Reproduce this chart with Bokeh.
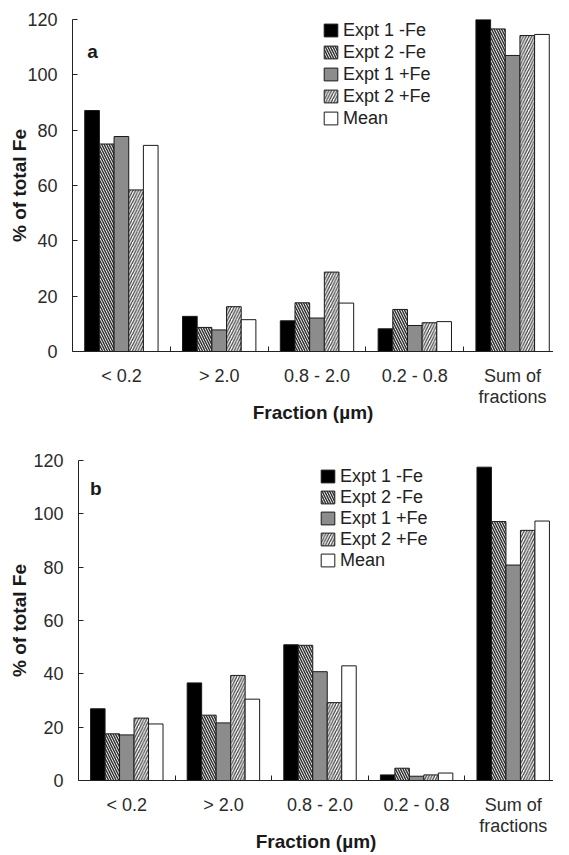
from bokeh.plotting import figure
from bokeh.models import Range1d, FixedTicker, Label, ColumnDataSource, Spacer
from bokeh.layouts import column, row
from bokeh.embed import file_html
from bokeh.resources import INLINE

categories = ["< 0.2", "> 2.0", "0.8 - 2.0", "0.2 - 0.8", "Sum of\nfractions"]
series = ["Expt 1 -Fe", "Expt 2 -Fe", "Expt 1 +Fe", "Expt 2 +Fe", "Mean"]

a_expt1_minus = [87.1, 12.7, 11.1, 8.2, 120.0]
a_expt2_minus = [75.0, 8.7, 17.6, 15.2, 116.6]
a_expt1_plus = [77.7, 7.8, 12.1, 9.4, 107.0]
a_expt2_plus = [58.4, 16.2, 28.7, 10.4, 114.2]
a_mean = [74.5, 11.5, 17.5, 10.8, 114.6]

b_expt1_minus = [26.9, 36.6, 50.9, 2.1, 117.5]
b_expt2_minus = [17.5, 24.5, 50.7, 4.6, 97.1]
b_expt1_plus = [17.1, 21.6, 40.8, 1.6, 80.8]
b_expt2_plus = [23.4, 39.4, 29.2, 2.1, 93.8]
b_mean = [21.2, 30.5, 43.0, 2.8, 97.3]

y_ticks = [0, 20, 40, 60, 80, 100, 120]
x_title = "Fraction (µm)"
y_title = "% of total Fe"

FONT = "Liberation Sans"
TXT = "#2b2b2b"

styles = [
    dict(fill_color="#000000", hatch_pattern=None),
    dict(fill_color="#ffffff", hatch_pattern="\\", hatch_color="#333333", hatch_scale=5, hatch_weight=1.5),
    dict(fill_color="#8c8c8c", hatch_pattern=None),
    dict(fill_color="#ffffff", hatch_pattern="/", hatch_color="#444444", hatch_scale=5.5, hatch_weight=1.3),
    dict(fill_color="#ffffff", hatch_pattern=None),
]

BAR_W = 0.15


def make_panel(data, letter, width, height, left, top, bottom, xmax, leg_xy,
               leg_row, ylab_standoff):
    p = figure(width=width, height=height, output_backend="svg", toolbar_location=None,
               x_range=Range1d(0, xmax), y_range=Range1d(0, 120),
               min_border_left=left, min_border_top=top, min_border_bottom=bottom,
               min_border_right=0)
    p.outline_line_color = None
    p.xgrid.visible = False
    p.ygrid.visible = False
    for j, (name, vals) in enumerate(zip(series, data)):
        xs = [i + 0.5 + (j - 2) * BAR_W for i in range(len(categories))]
        src = ColumnDataSource(dict(x=xs, top=vals))
        st = dict(styles[j])
        hp = st.pop("hatch_pattern")
        kw = dict(x="x", top="top", bottom=0, width=BAR_W, source=src,
                  line_color="#1a1a1a", line_width=1, legend_label=name, **st)
        if hp:
            kw["hatch_pattern"] = hp
        p.vbar(**kw)

    xa = p.xaxis[0]
    centers = [i + 0.5 for i in range(len(categories))]
    xa.ticker = FixedTicker(ticks=centers, minor_ticks=list(range(1, len(categories))))
    xa.major_label_overrides = {c: lab for c, lab in zip(centers, categories)}
    xa.major_tick_in = 0
    xa.major_tick_out = 0
    xa.minor_tick_in = 5
    xa.minor_tick_out = 0
    xa.minor_tick_line_color = "#222222"
    xa.axis_line_color = "#222222"
    xa.major_label_standoff = 14
    xa.major_label_text_font = FONT
    xa.major_label_text_font_size = "18px"
    xa.major_label_text_line_height = 1.08
    xa.major_label_text_color = TXT
    xa.axis_label = x_title
    xa.axis_label_text_font = FONT
    xa.axis_label_text_font_size = "19px"
    xa.axis_label_text_font_style = "bold"
    xa.axis_label_text_color = "#1a1a1a"
    xa.axis_label_standoff = -8

    ya = p.yaxis[0]
    ya.ticker = FixedTicker(ticks=y_ticks)
    ya.major_tick_in = 5
    ya.major_tick_out = 0
    ya.minor_tick_line_color = None
    ya.major_tick_line_color = "#222222"
    ya.axis_line_color = "#222222"
    ya.major_label_standoff = 15
    ya.major_label_text_font = FONT
    ya.major_label_text_font_size = "18px"
    ya.major_label_text_color = TXT
    ya.axis_label = y_title
    ya.axis_label_text_font = FONT
    ya.axis_label_text_font_size = "19px"
    ya.axis_label_text_font_style = "bold"
    ya.axis_label_text_line_height = 0.8
    ya.axis_label_text_color = "#1a1a1a"
    ya.axis_label_standoff = ylab_standoff

    p.add_layout(Label(x=letter[1], y=letter[2], text=letter[0], text_font=FONT,
                       text_font_size="19px", text_font_style="bold",
                       text_color="#1a1a1a", text_baseline="middle"))

    lg = p.legend[0]
    lg.location = leg_xy
    lg.padding = 0
    lg.margin = 0
    lg.spacing = 0
    lg.border_line_color = None
    lg.background_fill_alpha = 0
    lg.glyph_width = 17
    lg.glyph_height = 16
    lg.label_height = leg_row
    lg.label_standoff = 4
    lg.label_text_font = FONT
    lg.label_text_font_size = "18px"
    lg.label_text_color = "#222222"
    return p


pa = make_panel([a_expt1_minus, a_expt2_minus, a_expt1_plus, a_expt2_plus, a_mean],
                ("a", 0.15, 108.5), 553, 429, 72, 19, 78, 481 / 97.8, (250, 222), 22, -6)
pb = make_panel([b_expt1_minus, b_expt2_minus, b_expt1_plus, b_expt2_plus, b_mean],
                ("b", 0.12, 109.5), 547, 429, 72, 31, 78, 475 / 96.6, (241, 209.5), 21, 0)

layout = column(pa, row(Spacer(width=6), pb), spacing=0)
open("out.html", "w").write(file_html(layout, INLINE))
